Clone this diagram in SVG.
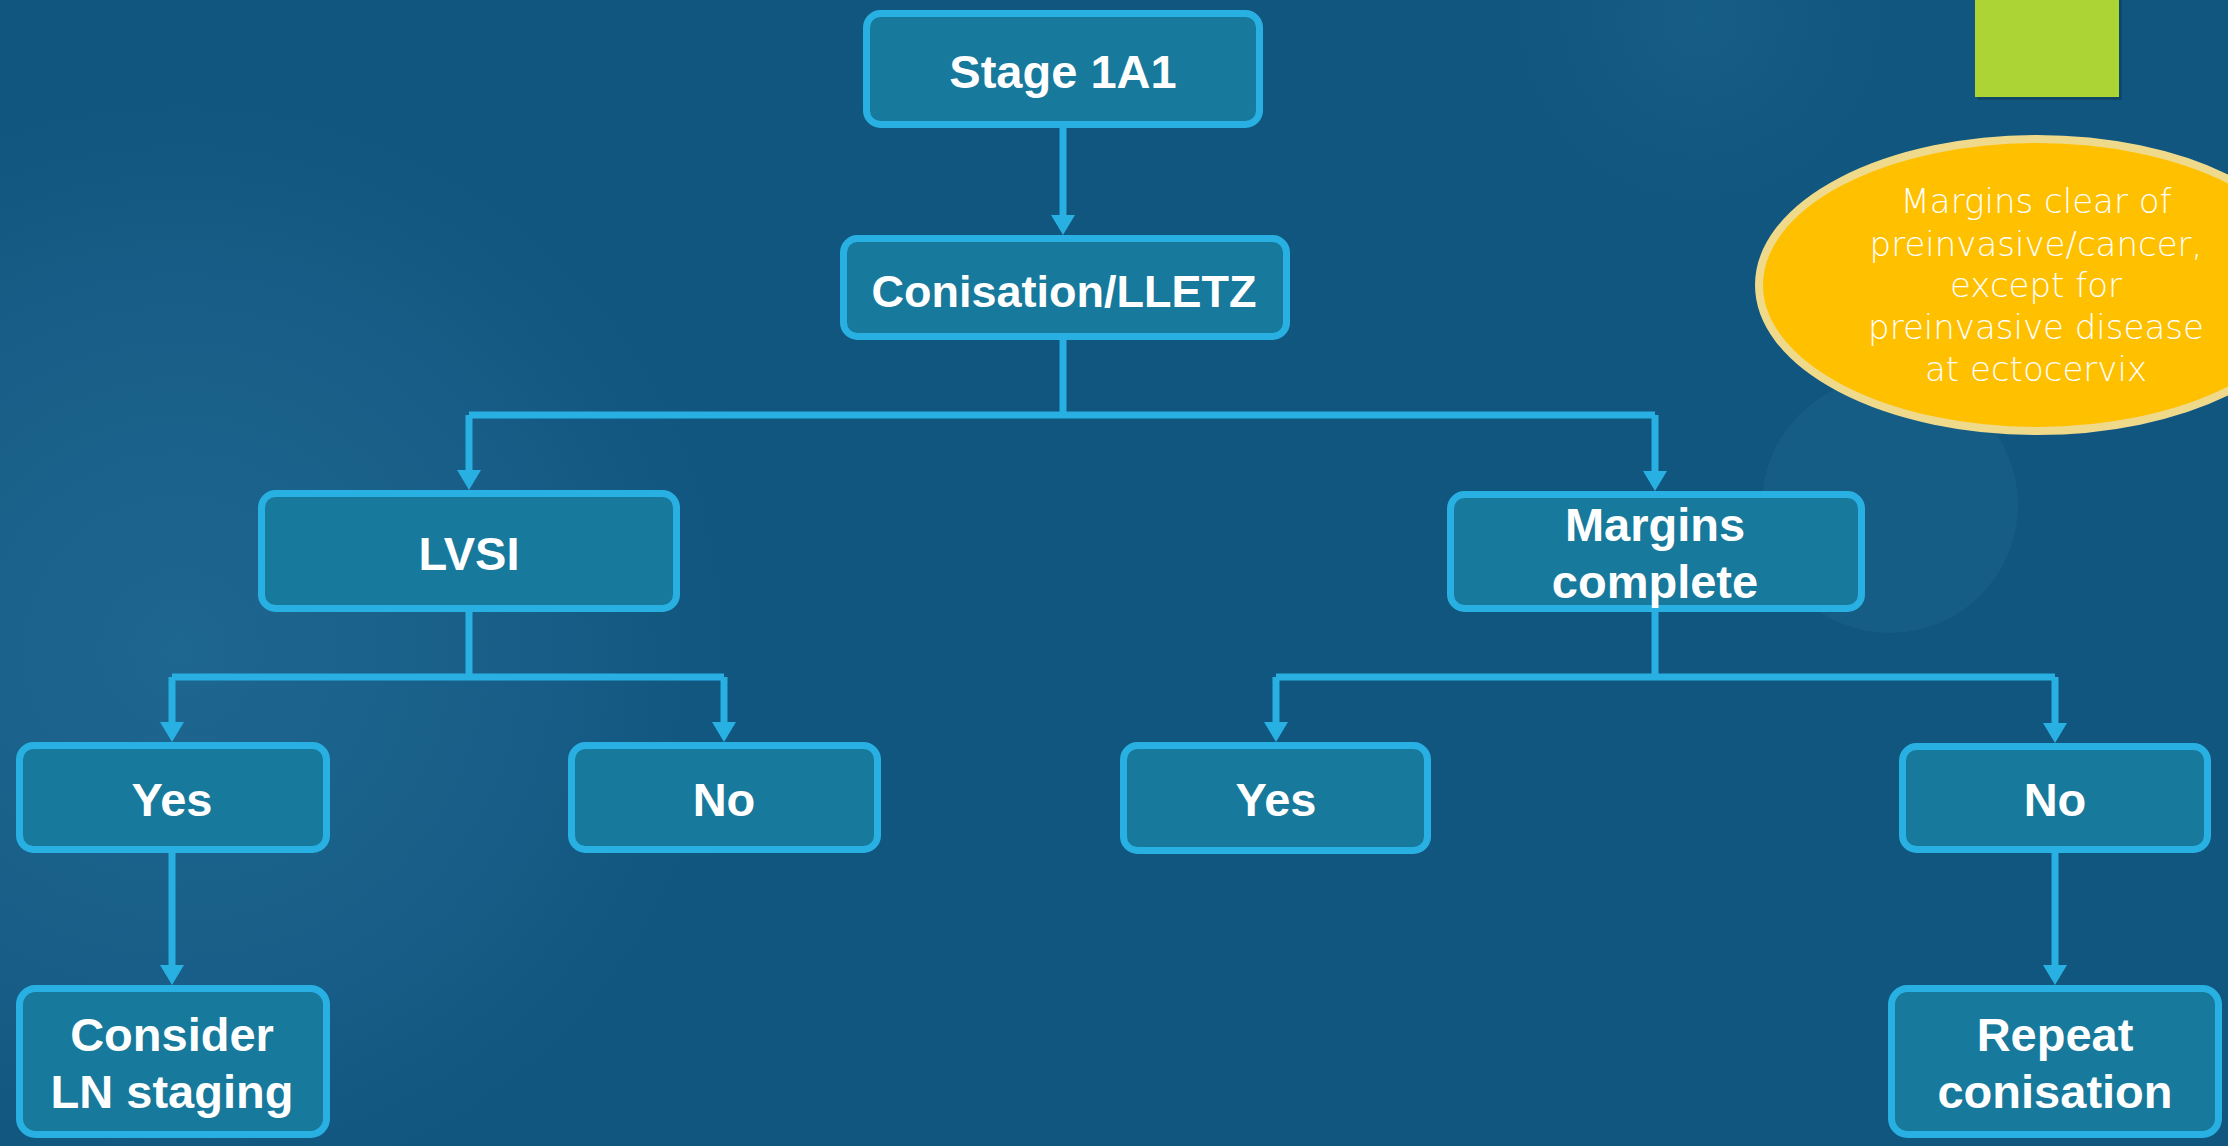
<svg xmlns="http://www.w3.org/2000/svg" width="2228" height="1146" viewBox="0 0 2228 1146">
<style>
.box{fill:#17799B;stroke:#29B0E3;stroke-width:7}
.lbl{font-family:"Liberation Sans",Arial,sans-serif;font-weight:bold;font-size:47px;fill:#FFFFFF;text-anchor:middle}
.con{fill:none;stroke:#29B0E3;stroke-width:7}
.note{font-family:"DejaVu Sans","Liberation Sans",sans-serif;font-weight:300;font-size:34px;fill:#FFFFFF;text-anchor:middle}
</style>
<defs>
<marker id="ah" markerUnits="userSpaceOnUse" markerWidth="20" markerHeight="24" viewBox="0 0 20 24" refX="2" refY="12" orient="auto">
<path d="M0,0 L20,12 L0,24 z" fill="#29B0E3"/>
</marker>
<radialGradient id="bgL" cx="180" cy="650" r="620" gradientUnits="userSpaceOnUse">
<stop offset="0" stop-color="#1E6790"/>
<stop offset="0.6" stop-color="#175D87"/>
<stop offset="1" stop-color="#10567F" stop-opacity="0"/>
</radialGradient>
<radialGradient id="bgT" cx="1700" cy="20" r="260" gradientUnits="userSpaceOnUse">
<stop offset="0" stop-color="#175E87"/>
<stop offset="1" stop-color="#10567F" stop-opacity="0"/>
</radialGradient>
</defs>
<rect x="0" y="0" width="2228" height="1146" fill="#10567F"/>
<rect x="0" y="0" width="2228" height="1146" fill="url(#bgL)"/>
<rect x="1400" y="0" width="600" height="300" fill="url(#bgT)"/>
<circle cx="1890" cy="505" r="128" fill="#165D86"/>
<g id="accent">
<rect x="1978" y="0" width="144" height="100" fill="#0A3A58" opacity="0.5"/>
<rect x="1975" y="0" width="144" height="97" fill="#ADD435"/>
</g>
<g id="connectors">
<path class="con" d="M1063,128 V217" marker-end="url(#ah)"/>
<path class="con" d="M1063,340 V415 M469,415 H1655"/>
<path class="con" d="M469,415 V472" marker-end="url(#ah)"/>
<path class="con" d="M1655,415 V473" marker-end="url(#ah)"/>
<path class="con" d="M469,612 V677 M172,677 H724"/>
<path class="con" d="M172,677 V724" marker-end="url(#ah)"/>
<path class="con" d="M724,677 V724" marker-end="url(#ah)"/>
<path class="con" d="M1655,612 V677 M1276,677 H2055"/>
<path class="con" d="M1276,677 V724" marker-end="url(#ah)"/>
<path class="con" d="M2055,677 V725" marker-end="url(#ah)"/>
<path class="con" d="M172,853 V967" marker-end="url(#ah)"/>
<path class="con" d="M2055,853 V967" marker-end="url(#ah)"/>
</g>
<g id="stage">
<rect class="box" x="866.5" y="13.5" width="393" height="111" rx="14"/>
<text class="lbl" x="1063" y="88">Stage 1A1</text>
</g>
<g id="conisation">
<rect class="box" x="843.5" y="238.5" width="443" height="98" rx="14"/>
<text class="lbl" x="1064" y="307" style="font-size:45px">Conisation/LLETZ</text>
</g>
<g id="lvsi">
<rect class="box" x="261.5" y="493.5" width="415" height="115" rx="14"/>
<text class="lbl" x="469" y="570">LVSI</text>
</g>
<g id="margins">
<rect class="box" x="1450.5" y="494.5" width="411" height="114" rx="14"/>
<text class="lbl" x="1655" y="541">Margins</text>
<text class="lbl" x="1655" y="598">complete</text>
</g>
<g id="lvsi-yes">
<rect class="box" x="19.5" y="745.5" width="307" height="104" rx="14"/>
<text class="lbl" x="172" y="816">Yes</text>
</g>
<g id="lvsi-no">
<rect class="box" x="571.5" y="745.5" width="306" height="104" rx="14"/>
<text class="lbl" x="724" y="816">No</text>
</g>
<g id="margins-yes">
<rect class="box" x="1123.5" y="745.5" width="304" height="105" rx="14"/>
<text class="lbl" x="1276" y="816">Yes</text>
</g>
<g id="margins-no">
<rect class="box" x="1902.5" y="746.5" width="305" height="103" rx="14"/>
<text class="lbl" x="2055" y="816">No</text>
</g>
<g id="consider">
<rect class="box" x="19.5" y="988.5" width="307" height="146" rx="16"/>
<text class="lbl" x="172" y="1051">Consider</text>
<text class="lbl" x="172" y="1108">LN staging</text>
</g>
<g id="repeat">
<rect class="box" x="1891.5" y="988.5" width="327" height="146" rx="16"/>
<text class="lbl" x="2055" y="1051">Repeat</text>
<text class="lbl" x="2055" y="1108">conisation</text>
</g>
<g id="note">
<ellipse cx="2037" cy="285" rx="278" ry="146" fill="#FFC000" stroke="#EFD98B" stroke-width="8"/>
<text class="note" x="2036" y="213">Margins clear of</text>
<text class="note" x="2036" y="256">preinvasive/cancer,</text>
<text class="note" x="2036" y="297">except for</text>
<text class="note" x="2036" y="339">preinvasive disease</text>
<text class="note" x="2036" y="381">at ectocervix</text>
</g>
</svg>
